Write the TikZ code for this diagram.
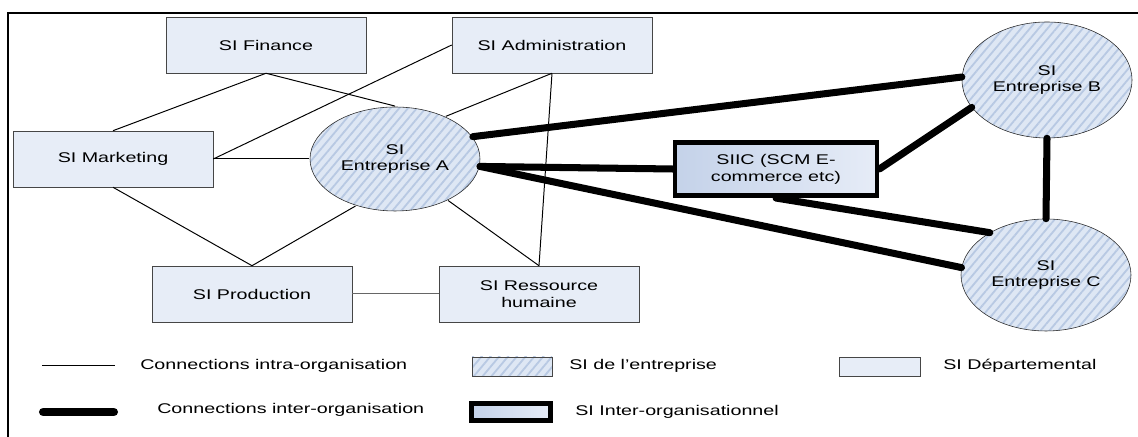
\documentclass[tikz,border=0pt]{standalone}
\usepackage{fontspec}
\setmainfont{Liberation Sans}[FakeStretch=1.4]
\usepackage{xcolor}
\definecolor{dep-blue}{RGB}{231,237,247}
\definecolor{ent-blue}{RGB}{222,231,244}
\definecolor{stripe-blue}{RGB}{184,201,227}
\definecolor{siic-dark}{RGB}{196,210,233}
\definecolor{siic-light}{RGB}{230,236,247}
\definecolor{box-line}{RGB}{70,70,70}
\usetikzlibrary{shapes.geometric,patterns.meta}

\begin{document}
\begin{tikzpicture}[font=\fontsize{10}{12}\selectfont]
%\draw [help lines] (0,0) grid (28,11);
\tikzset{
	boxSI/.style={
		rectangle,
		inner sep=0pt,
		minimum width=50mm,
		align=center,
		draw=box-line,
		fill=dep-blue,
		minimum height = 14mm
	},
	ellSI/.style={
		ellipse,
		inner sep=0pt,
		minimum width=42.5mm,
		align=center,
		draw=black!85,
		preaction={fill=ent-blue},
		pattern={Lines[angle=50,distance=4.8pt,line width=1.3pt]},
		pattern color=stripe-blue,
		minimum height = 26mm
	},
	boxSIIC/.style={
		rectangle,
		inner sep=0pt,
		minimum width=50.5mm,
		align=center,
		draw=black,
		line width=3.5pt,
		left color=siic-dark,
		right color=siic-light,
		minimum height = 13.3mm
	},
	intra/.style={draw=black, line width=0.7pt},
	inter/.style={draw=black, line width=5pt, line cap=round},
	legtext/.style={anchor=west, inner sep=0pt},
}
\useasboundingbox (0,0) rectangle (28.45,10.925);
\draw [line width=1.4pt] (0.2,0) -- (0.2,10.6) -- (28.45,10.6);

\node (fin) [boxSI] at (6.65,9.8) {SI Finance};
\node (adm) [boxSI] at (13.8,9.8) {SI Administration};
\node (mkt) [boxSI] at (2.825,6.95) {SI Marketing};
\node (prod) [boxSI] at (6.3,3.575) {SI Production};
\node (rh) [boxSI] at (13.475,3.575) {SI Ressource\\ humaine};
\node (ea) [ellSI] at (9.875,6.95) {SI\\ Entreprise A};
\node (eb) [ellSI, minimum height=29mm] at (26.175,8.925) {SI\\ Entreprise B};
\node (ec) [ellSI, minimum height=28mm] at (26.15,4.05) {SI\\ Entreprise C};
\node (siic) [boxSIIC] at (19.4,6.7) {SIIC (SCM E-\\ commerce etc)};

% intra-organisation
\draw [intra] (fin.south) -- (mkt.north);
\draw [intra] (fin.south) -- (ea.north);
\draw [intra] (adm.west) -- (mkt.east);
\draw [intra] (mkt.east) -- (ea.west);
\draw [intra] (adm.south) -- (ea.40);
\draw [intra] (adm.south) -- (rh.north);
\draw [intra] (mkt.south) -- (prod.north);
\draw [intra] (prod.north) -- (ea.-130);
\draw [intra] (ea.-38) -- (rh.north);
\draw [intra, draw=black!60] (prod.east) -- (rh.west);

% inter-organisation
\draw [inter] (ea.16) -- (eb.178);
\draw [inter] (ea.-5) -- (siic.west);
\draw [inter] (ea.-5) -- (ec.175);
\draw [inter] (siic.east) -- (eb.200);
\draw [inter] (siic.south) -- (ec.143);
\draw [inter] (eb.south) -- (ec.north);

% legend
\coordinate (la) at (1.05,1.775);
\coordinate (lb) at (2.875,1.775);
\coordinate (lc) at (1.08,0.625);
\coordinate (ld) at (2.845,0.625);
\draw [intra] (la) -- (lb);
\draw [inter, line width=6pt] (lc) -- (ld);
\node (lt1) [legtext] at (3.5,1.775) {Connections intra-organisation};
\node (lt2) [legtext] at (3.925,0.675) {Connections inter-organisation};
\node (k1) [ellSI, rectangle, draw=box-line, minimum width=20mm, minimum height=4.75mm] at (12.8,1.7625) {};
\node (lt3) [legtext] at (14.225,1.775) {SI de l'entreprise};
\node (k2) [boxSIIC, minimum width=19.75mm, minimum height=4.25mm] at (12.775,0.625) {};
\node (lt4) [legtext] at (14.375,0.625) {SI Inter-organisationnel};
\node (k3) [boxSI, minimum width=20.25mm, minimum height=4.75mm] at (21.9875,1.7625) {};
\node (lt5) [legtext] at (23.575,1.775) {SI Départemental};
\end{tikzpicture}
\end{document}
